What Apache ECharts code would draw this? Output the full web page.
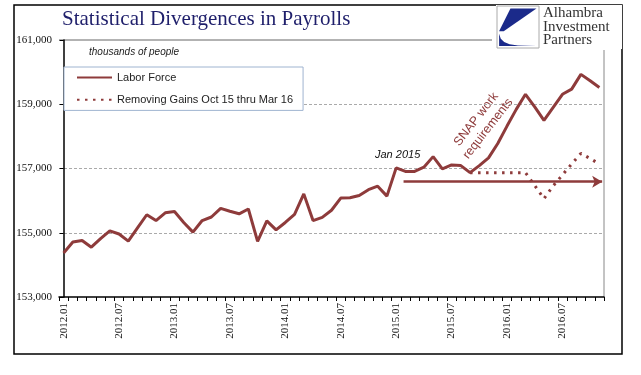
<!DOCTYPE html>
<html>
<head>
<meta charset="utf-8">
<script src="https://cdn.jsdelivr.net/npm/echarts@6/dist/echarts.min.js"></script>
<style>
  html, body { margin: 0; padding: 0; background: #fff; }
  #chart { width: 641px; height: 375px; }
</style>
</head>
<body>
<div id="chart"></div>
<script>
// monthly categories, 2012.01 .. 2016.11
const months = [
  "2012.01","2012.02","2012.03","2012.04","2012.05","2012.06","2012.07","2012.08","2012.09","2012.10","2012.11","2012.12",
  "2013.01","2013.02","2013.03","2013.04","2013.05","2013.06","2013.07","2013.08","2013.09","2013.10","2013.11","2013.12",
  "2014.01","2014.02","2014.03","2014.04","2014.05","2014.06","2014.07","2014.08","2014.09","2014.10","2014.11","2014.12",
  "2015.01","2015.02","2015.03","2015.04","2015.05","2015.06","2015.07","2015.08","2015.09","2015.10","2015.11","2015.12",
  "2016.01","2016.02","2016.03","2016.04","2016.05","2016.06","2016.07","2016.08","2016.09","2016.10","2016.11"
];

// thousands of people
const laborForce = [
  154370, 154710, 154760, 154550, 154820, 155060, 154960, 154740, 155150, 155560, 155380, 155620,
  155660, 155320, 155020, 155380, 155490, 155760, 155670, 155590, 155740, 154730, 155370, 155090,
  155320, 155570, 156210, 155380, 155480, 155700, 156080, 156090, 156160, 156340, 156450, 156140,
  157020, 156910, 156910, 157040, 157370, 156990, 157110, 157090, 156870, 157090, 157330, 157780,
  158320, 158840, 159310, 158920, 158500, 158900, 159310, 159470, 159930, 159730, 159520
];

const removingGains = [
  null, null, null, null, null, null, null, null, null, null, null, null,
  null, null, null, null, null, null, null, null, null, null, null, null,
  null, null, null, null, null, null, null, null, null, null, null, null,
  null, null, null, null, null, null, null, null, 156870, 156870, 156870, 156870,
  156870, 156870, 156870, 156470, 156060, 156460, 156800, 157140, 157470, 157310, 157140
];

const yTicks = [153000, 155000, 157000, 159000, 161000];

// arrow annotation: [category index, value]
const arrowStart = [36.8, 156590];
const arrowEnd = [58.3, 156590];

const red = "#8e3b3b";
const serif = "Liberation Serif";
const sans = "Liberation Sans";

const fmt = (v) => String(v).replace(/\B(?=(\d{3})+(?!\d))/g, ",");

const chart = echarts.init(document.getElementById("chart"));

// logo box
const lx = 497, ly = 6, ls = 42;
const lp = (pts) => pts.map(([a, b]) => [lx + a * ls, ly + b * ls]);

chart.setOption({
  backgroundColor: "#fff",
  animation: false,
  grid: { left: 59, right: 37, top: 40, bottom: 78, outerBoundsMode: "none" },
  legend: {
    orient: "vertical",
    left: 64,
    top: 67,
    padding: [5, 10, 5, 12],
    itemGap: 11,
    itemWidth: 35,
    itemHeight: 14,
    borderColor: "#9fb4d0",
    borderWidth: 1,
    backgroundColor: "#fff",
    itemStyle: { opacity: 0 },
    data: ["Labor Force", "Removing Gains Oct 15 thru Mar 16"],
    textStyle: { fontFamily: sans, fontSize: 11, color: "#222" },
  },
  xAxis: [
    {
      type: "category",
      data: months,
      boundaryGap: true,
      axisLine: { lineStyle: { color: "#000", width: 1.5 } },
      axisTick: { show: true, interval: 0, length: 4, lineStyle: { color: "#000" } },
      axisLabel: {
        interval: 5,
        rotate: 90,
        margin: 6,
        fontFamily: serif,
        fontSize: 11,
        color: "#111",
      },
      splitLine: { show: false },
    },
    { type: "value", min: -0.5, max: 58.5, show: false },
  ],
  yAxis: {
    type: "value",
    min: yTicks[0],
    max: yTicks[yTicks.length - 1],
    interval: 2000,
    axisLine: { show: true, lineStyle: { color: "#000", width: 1.5 } },
    axisTick: { show: true, length: 4, lineStyle: { color: "#000" } },
    axisLabel: {
      margin: 7,
      fontFamily: serif,
      fontSize: 11,
      color: "#111",
      formatter: fmt,
    },
    splitLine: {
      show: true,
      showMinLine: false,
      showMaxLine: false,
      lineStyle: { color: "#aaa", type: [3, 2], width: 1 },
    },
  },
  series: [
    {
      name: "Labor Force",
      type: "line",
      data: laborForce,
      symbol: "none",
      lineStyle: { color: red, width: 3 },
      itemStyle: { color: red },
      z: 3,
    },
    {
      name: "Removing Gains Oct 15 thru Mar 16",
      type: "line",
      data: removingGains,
      symbol: "none",
      lineStyle: { color: red, width: 3, type: [2.5, 5.5] },
      itemStyle: { color: red },
      z: 2,
    },
    {
      name: "arrow",
      type: "line",
      xAxisIndex: 1,
      data: [arrowStart, arrowEnd],
      symbol: "none",
      lineStyle: { opacity: 0 },
      markLine: {
        silent: true,
        symbol: ["none", "arrow"],
        symbolSize: [9, 10],
        label: { show: false },
        lineStyle: { color: red, width: 2.5, type: "solid" },
        data: [[{ coord: arrowStart }, { coord: arrowEnd }]],
      },
    },
  ],
  graphic: [
    // outer frame
    {
      type: "rect",
      shape: { x: 14, y: 5, width: 608, height: 349 },
      style: { fill: null, stroke: "#000", lineWidth: 1.5 },
      silent: true,
    },
    // title + underline
    {
      type: "text",
      left: 62,
      top: 9,
      style: {
        text: "Statistical Divergences in Payrolls",
        fontFamily: serif,
        fontSize: 21,
        fill: "#1f1f6b",
      },
    },
    {
      type: "line",
      shape: { x1: 59, y1: 40, x2: 492, y2: 40 },
      style: { stroke: "#666", lineWidth: 1 },
    },
    // right border of plot
    {
      type: "line",
      shape: { x1: 604, y1: 50, x2: 604, y2: 297 },
      style: { stroke: "#888", lineWidth: 1 },
    },
    {
      type: "text",
      left: 89,
      top: 47,
      style: {
        text: "thousands of people",
        fontFamily: sans,
        fontStyle: "italic",
        fontSize: 10,
        fill: "#222",
      },
    },
    {
      type: "text",
      left: 375,
      top: 149,
      style: {
        text: "Jan 2015",
        fontFamily: sans,
        fontStyle: "italic",
        fontSize: 11,
        fill: "#111",
      },
    },
    {
      type: "text",
      x: 482,
      y: 124,
      rotation: (52 * Math.PI) / 180,
      style: {
        text: "SNAP work\nrequirements",
        fontFamily: sans,
        fontSize: 12.5,
        lineHeight: 15,
        fill: red,
        align: "center",
        verticalAlign: "middle",
      },
    },
    // logo
    {
      type: "rect",
      shape: { x: lx - 1, y: ly - 1, width: 126, height: ls + 2 },
      style: { fill: "#fff" },
      z: 10,
    },
    {
      type: "rect",
      shape: { x: lx, y: ly, width: ls, height: ls },
      style: { fill: "#fff", stroke: "#aaa", lineWidth: 1 },
      z: 11,
    },
    {
      type: "polygon",
      shape: { points: lp([[0.32, 0.06], [0.94, 0.06], [0.16, 0.6], [0.05, 0.6]]) },
      style: { fill: "#1b2a8a" },
      z: 12,
    },
    {
      type: "polygon",
      shape: {
        points: lp([[0.05, 0.66], [0.09, 0.78], [0.17, 0.86], [0.3, 0.91], [0.5, 0.94], [0.94, 0.95], [0.05, 0.95]]),
      },
      style: { fill: "#1b2a8a" },
      z: 12,
    },
    {
      type: "text",
      left: 543,
      top: 6,
      style: {
        text: "Alhambra\nInvestment\nPartners",
        fontFamily: serif,
        fontSize: 15,
        lineHeight: 13.5,
        fill: "#333",
      },
      z: 12,
    },
  ],
});
</script>
</body>
</html>
